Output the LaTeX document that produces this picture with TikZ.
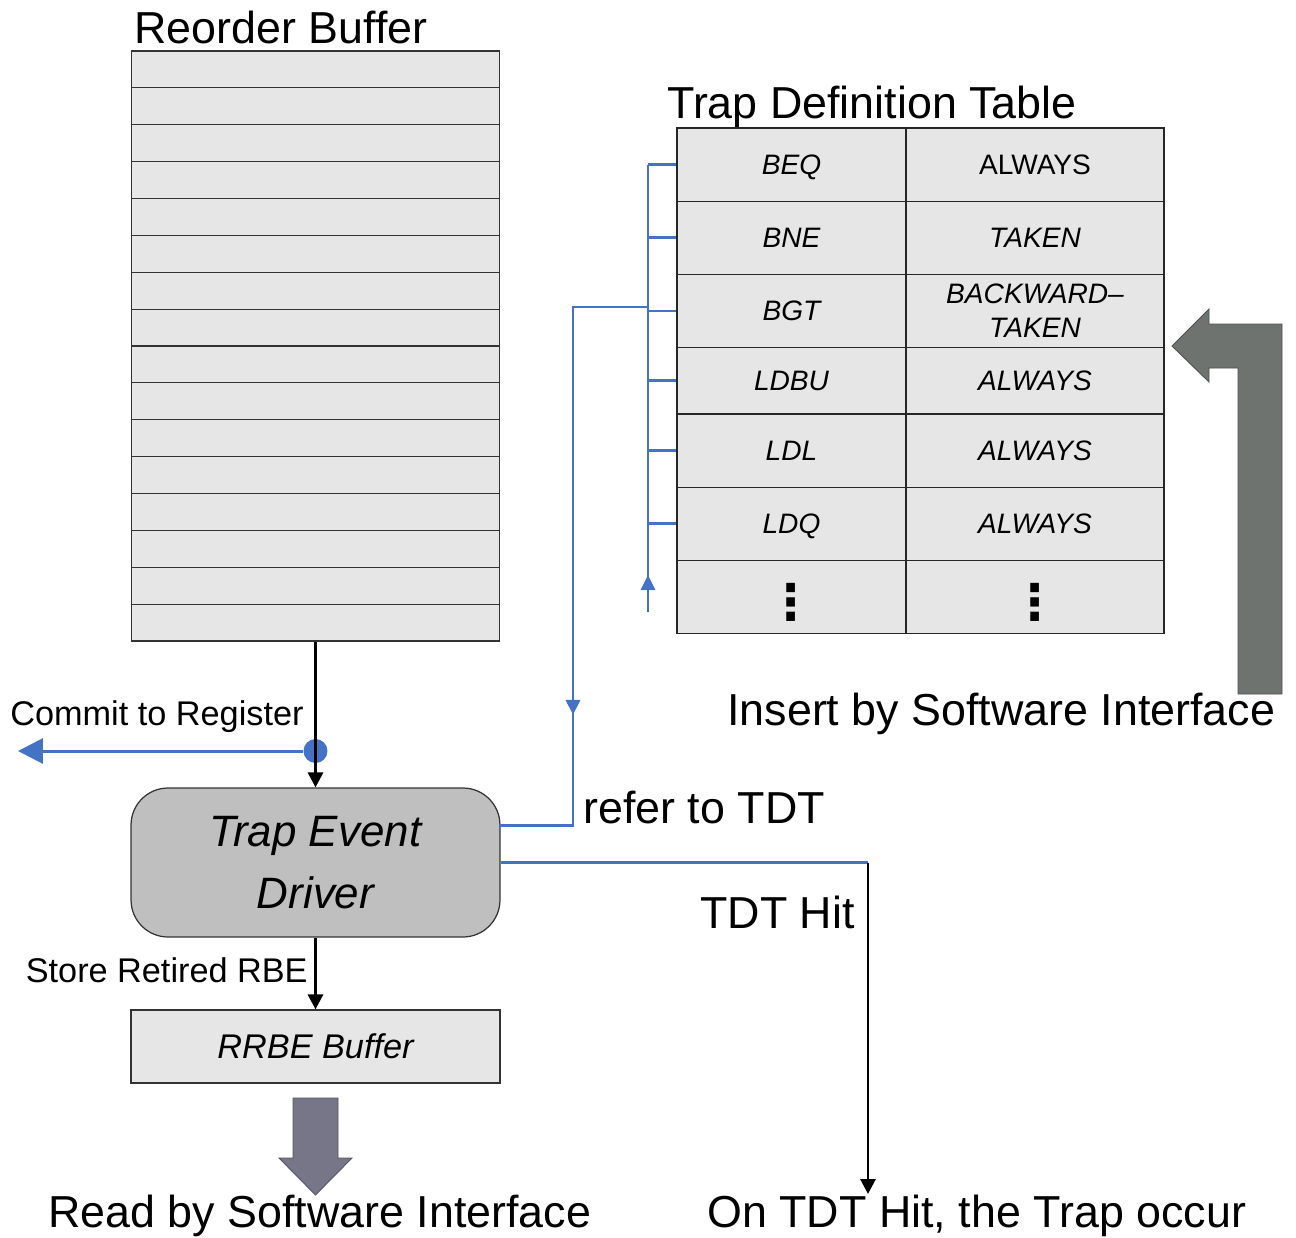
\documentclass[tikz,border=0pt]{standalone}
\usepackage{fontspec}
\setmainfont{Liberation Sans}
\newfontfamily\dotsfont{DejaVu Sans}
\usepackage{tikz}
\usetikzlibrary{arrows.meta, positioning, calc, decorations.markings}
\definecolor{cellgray}{HTML}{E6E6E6}
\definecolor{drvgray}{HTML}{BFBFBF}
\definecolor{busblue}{HTML}{4472C4}
\definecolor{readgray}{HTML}{767688}
\definecolor{insgray}{HTML}{6E7370}

\begin{document}
\begin{tikzpicture}[
    x=0.02cm, y=-0.02cm,
    >=Triangle,
    big/.style={font=\fontsize{25.5}{31}\selectfont, inner sep=0pt},
    small/.style={font=\fontsize{19.5}{23}\selectfont, inner sep=0pt},
    robrow/.style={draw=black!80, fill=cellgray, line width=0.6pt, minimum width=7.38cm, minimum height=0.7375cm, inner sep=0pt},
    tdtleft/.style={draw=black!85, fill=cellgray, line width=0.7pt, minimum width=4.58cm, minimum height=#1, inner sep=0pt, text depth=0pt, font=\fontsize{16}{19}\selectfont\itshape},
    tdtleft/.default=1.464cm,
    tdtright/.style={draw=black!85, fill=cellgray, line width=0.7pt, minimum width=5.16cm, minimum height=#1, inner sep=0pt, align=center, font=\fontsize{16}{19.5}\selectfont\itshape},
    tdtright/.default=1.464cm,
    vdotcell/.style={font=\fontsize{28}{30}\selectfont\dotsfont\bfseries, text height=0.98cm, text depth=0.1cm},
    blkarrow/.style={->, line width=1.7pt, >={Triangle[length=0.3cm, width=0.3cm]}},
    busline/.style={draw=busblue, line width=1.7pt},
    midarrow/.style={postaction={decorate}, decoration={markings, mark=at position #1 with {\arrow{Triangle[length=0.3cm, width=0.28cm]}}}}
]
\useasboundingbox (0,0) rectangle (1296,1238);

% Reorder Buffer
\node[big, anchor=base west] (roblabel) at (134,43) {Reorder Buffer};
\node[robrow] (rob1) at (315.5,69.44) {};
\node[robrow] (rob2) at (315.5,106.31) {};
\node[robrow] (rob3) at (315.5,143.19) {};
\node[robrow] (rob4) at (315.5,180.06) {};
\node[robrow] (rob5) at (315.5,216.94) {};
\node[robrow] (rob6) at (315.5,253.81) {};
\node[robrow] (rob7) at (315.5,290.69) {};
\node[robrow] (rob8) at (315.5,327.56) {};
\node[robrow] (rob9) at (315.5,364.44) {};
\node[robrow] (rob10) at (315.5,401.31) {};
\node[robrow] (rob11) at (315.5,438.19) {};
\node[robrow] (rob12) at (315.5,475.06) {};
\node[robrow] (rob13) at (315.5,511.94) {};
\node[robrow] (rob14) at (315.5,548.81) {};
\node[robrow] (rob15) at (315.5,585.69) {};
\node[robrow] (rob16) at (315.5,622.56) {};

% Trap Definition Table
\node[big, anchor=base west] (tdtlabel) at (667,118) {Trap Definition Table};
\node[tdtleft] (tl1) at (791.5,164.6) {BEQ};
\node[tdtright] (tr1) at (1035,164.6) {\upshape ALWAYS};
\node[tdtleft] (tl2) at (791.5,237.8) {BNE};
\node[tdtright] (tr2) at (1035,237.8) {TAKEN};
\node[tdtleft] (tl3) at (791.5,311) {BGT};
\node[tdtright] (tr3) at (1035,311) {BACKWARD–\\TAKEN};
\node[tdtleft=1.33cm] (tl4) at (791.5,380.85) {LDBU};
\node[tdtright=1.33cm] (tr4) at (1035,380.85) {ALWAYS};
\node[tdtleft] (tl5) at (791.5,450.7) {LDL};
\node[tdtright] (tr5) at (1035,450.7) {ALWAYS};
\node[tdtleft] (tl6) at (791.5,523.9) {LDQ};
\node[tdtright] (tr6) at (1035,523.9) {ALWAYS};
\node[tdtleft, vdotcell] (tl7) at (791.5,597.1) {⋮};
\node[tdtright, vdotcell] (tr7) at (1035,597.1) {⋮};

% Bus into the table
\coordinate (busbot) at (648,612);
\coordinate (bustop) at (648,164.6);
\draw[busline, midarrow=0.74cm] (busbot) -- (bustop);
\draw[busline] (tl1.west -| busbot) -- (tl1.west);
\draw[busline] (tl2.west -| busbot) -- (tl2.west);
\draw[busline] (tl3.west -| busbot) -- (tl3.west);
\draw[busline] (tl4.west -| busbot) -- (tl4.west);
\draw[busline] (tl5.west -| busbot) -- (tl5.west);
\draw[busline] (tl6.west -| busbot) -- (tl6.west);

% Trap Event Driver and RRBE Buffer
\node[draw=black!80, fill=drvgray, line width=0.7pt, rounded corners=0.74cm, minimum width=7.38cm, minimum height=2.98cm, align=center, font=\fontsize{25}{28}\selectfont\itshape] (tedrv) at (315.5,862.5) {Trap Event\\[0.24cm]Driver};
\node[draw=black!80, fill=cellgray, line width=0.7pt, minimum width=7.38cm, minimum height=1.46cm, font=\fontsize{19.5}{23}\selectfont\itshape] (rrbe) at (315.5,1046.5) {RRBE Buffer};

% Commit to Register
\node[circle, fill=busblue, minimum size=0.48cm, inner sep=0pt] (cdot) at (315.5,751) {};
\coordinate (cend) at (18,751);
\draw[busline, ->, >={Triangle[length=0.5cm, width=0.5cm]}] (cdot) -- (cend);
\draw[blkarrow] (rob16.south) -- (tedrv.north);
\node[small, anchor=base west] (commit) at (10,725) {Commit to Register};

% Store Retired RBE
\draw[blkarrow] (tedrv.south) -- (rrbe.north);
\node[small, anchor=base east] (store) at (308,982) {Store Retired RBE};

% refer to TDT
\coordinate (tap) at (648,307);
\coordinate (refcorner) at (573,307);
\coordinate (drvref) at (500,825);
\draw[busline, midarrow=9.66cm] (tap) -- (refcorner) -- (refcorner |- drvref) -- (drvref);
\node[big, anchor=base west] (refer) at (583,823) {refer to TDT};

% TDT Hit
\coordinate (hitturn) at (868,862.5);
\coordinate (hitend) at (868,1194);
\draw[busline] (tedrv.east) -- (hitturn);
\draw[blkarrow] (hitturn) -- (hitend);
\node[big, anchor=base east] (hit) at (855,928) {TDT Hit};
\node[big, anchor=base west] (occur) at (707,1227) {On TDT Hit, the Trap occur};

% Software interface
\filldraw[fill=readgray, draw=readgray!70!black, line width=0.5pt] (293,1098) -- (338,1098) -- (338,1158) -- (352,1158) -- (315.5,1195) -- (279,1158) -- (293,1158) -- cycle;
\node[big, anchor=base west] (readsw) at (48,1227) {Read by Software Interface};
\filldraw[fill=insgray, draw=insgray!70!black, line width=0.5pt] (1238,694) -- (1238,368) -- (1209,368) -- (1209,382) -- (1172,346) -- (1209,309) -- (1209,324) -- (1282,324) -- (1282,694) -- cycle;
\node[big, anchor=base west] (insertsw) at (727,725) {Insert by Software Interface};

\end{tikzpicture}
\end{document}
